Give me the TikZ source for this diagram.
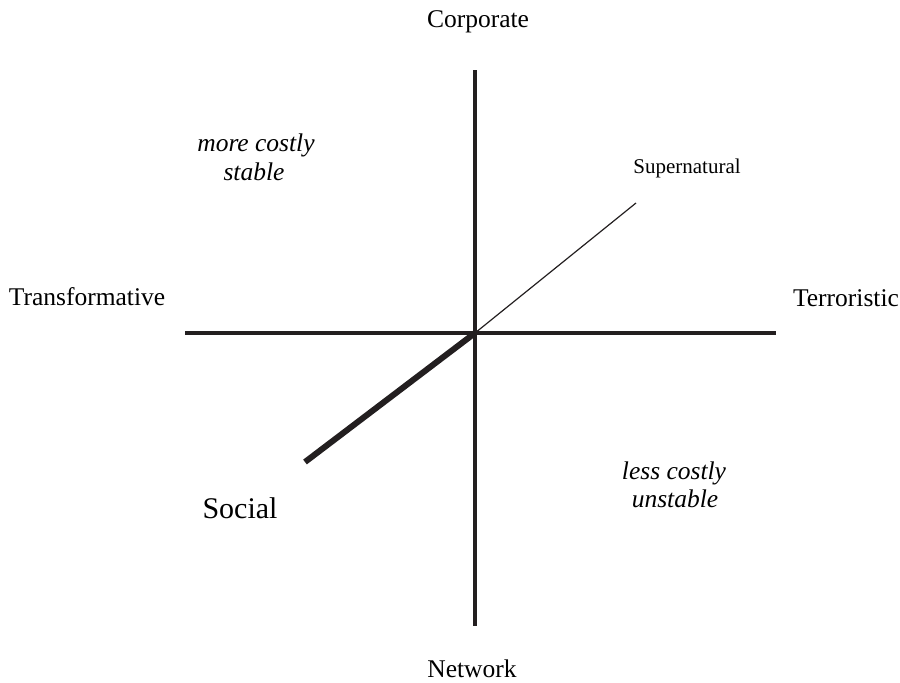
\documentclass[tikz,border=0pt]{standalone}
\usepackage{fontspec}
\setmainfont{Liberation Serif}
\begin{document}
\begin{tikzpicture}[x=1pt,y=-1pt,
  lbl/.style={anchor=base,inner sep=0pt,font=\fontsize{25.5}{30}\selectfont},
  ital/.style={anchor=base,inner sep=0pt,font=\fontsize{25.5}{30}\selectfont\itshape},
  axis/.style={line width=3.2pt,draw={rgb,255:red,35;green,31;blue,32}},
  thinline/.style={line width=1.2pt,draw={rgb,255:red,35;green,31;blue,32}},
  thickline/.style={line width=6pt,draw={rgb,255:red,35;green,31;blue,32}}]
\useasboundingbox (0,0) rectangle (900,683);
\coordinate (top) at (475,70);
\coordinate (bot) at (475,626);
\coordinate (left) at (185,333);
\coordinate (right) at (776,333);
\coordinate (o) at (475,333);
\coordinate (sn) at (636,203);
\coordinate (so) at (305,462);
\draw[axis] (top) -- (bot);
\draw[axis] (left) -- (right);
\draw[thinline] (o) -- (sn);
\draw[thickline] (o) -- (so);
\node[lbl] (corp) at (478,27) {Corporate};
\node[lbl] (net) at (472,677) {Network};
\node[lbl] (trans) at (87,305) {Transformative};
\node[lbl] (terr) at (846,306) {Terroristic};
\node[anchor=base,inner sep=0pt,font=\fontsize{21}{25}\selectfont] (super) at (687,173) {Supernatural};
\node[anchor=base,inner sep=0pt,font=\fontsize{30}{36}\selectfont] (social) at (240,518) {Social};
\node[ital] (mc) at (256,151) {more costly};
\node[ital] (st) at (254,180) {stable};
\node[ital] (lc) at (674,479) {less costly};
\node[ital] (un) at (675,507) {unstable};
\end{tikzpicture}
\end{document}
